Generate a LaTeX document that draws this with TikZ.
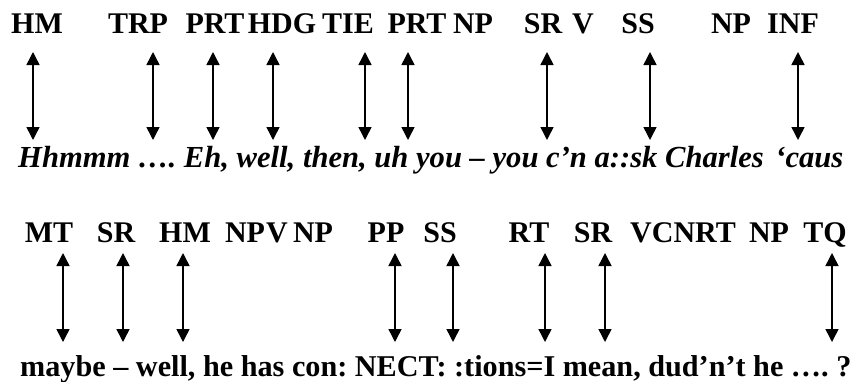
\documentclass[tikz,border=0pt]{standalone}
\usepackage{fontspec}
\setmainfont{Liberation Serif}
\usetikzlibrary{arrows.meta}

\tikzset{
  tag/.style={font=\fontsize{30}{34}\selectfont\bfseries,anchor=base,inner sep=0pt},
  utter/.style={font=\fontsize{30.2}{34}\selectfont\bfseries,anchor=base west,inner sep=0pt},
  link/.style={{Triangle[width=13pt,length=13pt]}-{Triangle[width=13pt,length=13pt]},line width=1.5pt}
}

\begin{document}
\frenchspacing
\begin{tikzpicture}[x=1pt,y=-1pt]
  \useasboundingbox (0,0) rectangle (850,381);
  % first line: codes
  \node[tag] (hma) at (37,33) {HM};
  \node[tag] (trp) at (138,33) {TRP};
  \node[tag] (prta) at (215,33) {PRT};
  \node[tag] (hdg) at (282,33) {HDG};
  \node[tag] (tie) at (348,33) {TIE};
  \node[tag] (prtb) at (417,33) {PRT};
  \node[tag] (npa) at (473,33) {NP};
  \node[tag] (sra) at (543,33) {SR};
  \node[tag] (va) at (583,33) {V};
  \node[tag] (ssa) at (638,33) {SS};
  \node[tag] (npb) at (731,33) {NP};
  \node[tag] (inf) at (793,33) {INF};
  % first line: talk
  \node[utter,font=\fontsize{30.6}{35}\selectfont\bfseries\itshape] (talka) at (18,167)
    {Hhmmm …. Eh, well, then, uh you – you c’n a::sk Charles\hspace{4pt} ‘caus};
  \foreach \x [count=\i] in {33,153,213,273,365,408,547,650,798}{
    \coordinate (ta\i) at (\x,52);
    \coordinate (ba\i) at (\x,140);
    \draw[link] (ta\i) -- (ba\i);
  }
  % second line: codes
  \node[tag] (mt) at (49,242) {MT};
  \node[tag] (srb) at (116,242) {SR};
  \node[tag] (hmb) at (185,242) {HM};
  \node[tag] (npc) at (245,242) {NP};
  \node[tag] (vb) at (277,242) {V};
  \node[tag] (npd) at (313,242) {NP};
  \node[tag] (pp) at (386,242) {PP};
  \node[tag] (ssb) at (440,242) {SS};
  \node[tag] (rt) at (529,242) {RT};
  \node[tag] (src) at (593,242) {SR};
  \node[tag] (vcnrt) at (683,242) {VCNRT};
  \node[tag] (npe) at (769,242) {NP};
  \node[tag] (tq) at (825,242) {TQ};
  % second line: talk
  \node[utter] (talkb) at (20,376)
    {maybe – well, he has con: NECT: :tions=I mean, dud’n’t he …. ?};
  \foreach \x [count=\i] in {63,123,183,395,453,545,605,832}{
    \coordinate (tb\i) at (\x,253);
    \coordinate (bb\i) at (\x,342);
    \draw[link] (tb\i) -- (bb\i);
  }
\end{tikzpicture}
\end{document}
